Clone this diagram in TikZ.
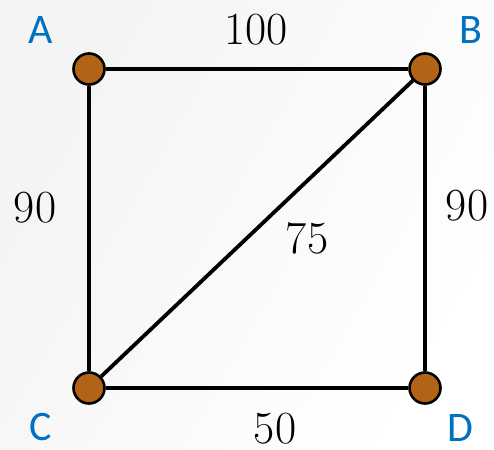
\documentclass[tikz,border=0pt]{standalone}
\usepackage{fontspec}
\newfontfamily\namefont{Carlito}
\usetikzlibrary{calc}
\definecolor{vertexbrown}{RGB}{178,100,22}
\definecolor{nameblue}{RGB}{0,112,192}

\begin{document}
\begin{tikzpicture}[x=1pt,y=-1pt,
    vertex/.style={circle,draw=black,line width=2.6pt,fill=vertexbrown,minimum size=31pt,inner sep=0pt},
    vname/.style={text=nameblue,font=\namefont\fontsize{42}{44}\selectfont,inner sep=0pt},
    weight/.style={font=\fontsize{46}{48}\selectfont,inner sep=0pt},
    edge/.style={line width=3.8pt}]
    % background
    \shade[left color=gray!9,right color=white,shading angle=60] (0,0) rectangle (494,449);
    \useasboundingbox (0,0) rectangle (494,449);
    % vertices
    \node[vertex] (A) at (89,69) {};
    \node[vertex] (B) at (425,69) {};
    \node[vertex] (C) at (89,388) {};
    \node[vertex] (D) at (425,388) {};
    \draw[edge] (A) -- (B) -- (D) -- (C) -- (A);
    \draw[edge] (C) -- (B);
    % names
    \node[vname] (nA) at (41,30) {A}; \node[vname] (nB) at (471,30) {B};
    \node[vname] (nC) at (41,427) {C}; \node[vname] (nD) at (460,428) {D};
    % weights
    \node[weight] (wAB) at (256,30) {100};
    \node[weight] (wAC) at (35,208) {90};
    \node[weight] (wBD) at (467,206) {90};
    \node[weight] (wBC) at (307,238) {75};
    \node[weight] (wCD) at (275,429) {50};
\end{tikzpicture}
\end{document}
